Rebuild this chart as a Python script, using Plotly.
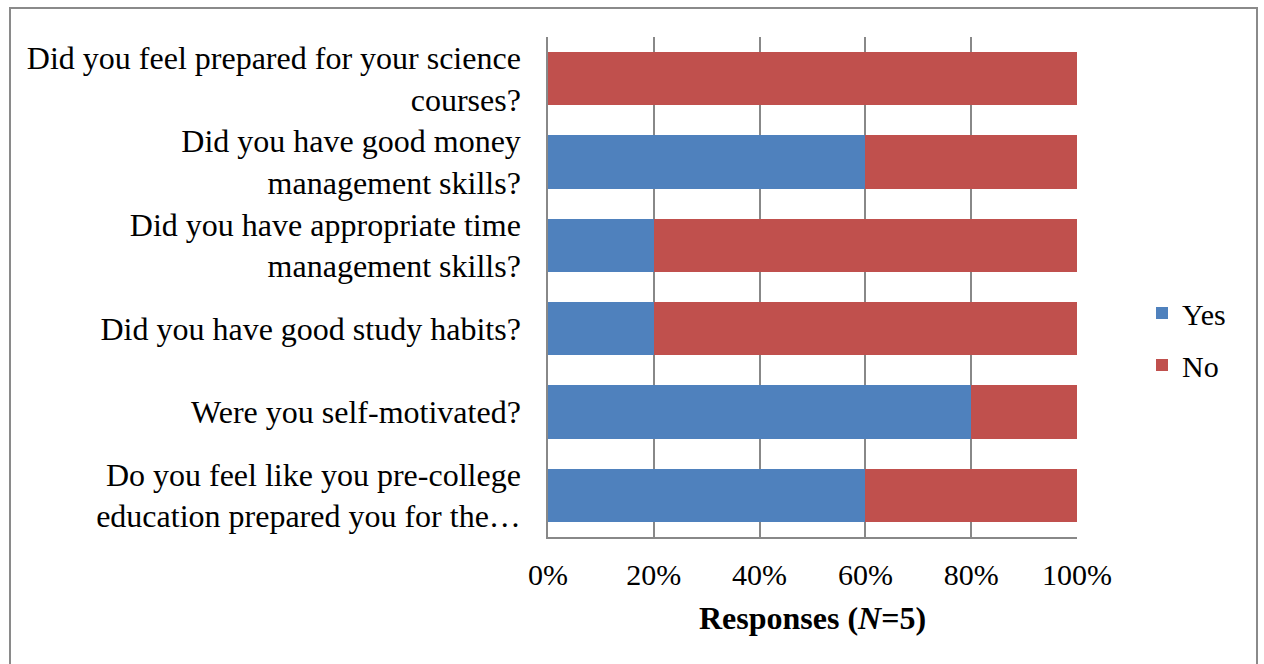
import plotly.graph_objects as go

# Survey questions, listed top to bottom
questions = [
    "Did you feel prepared for your science<br>courses?",
    "Did you have good money<br>management skills?",
    "Did you have appropriate time<br>management skills?",
    "Did you have good study habits?",
    "Were you self-motivated?",
    "Do you feel like you pre-college<br>education prepared you for the…",
]
yes_pct = [0, 60, 20, 20, 80, 60]
no_pct = [100, 40, 80, 80, 20, 40]
tick_vals = [0, 20, 40, 60, 80, 100]
tick_text = ["0%", "20%", "40%", "60%", "80%", "100%"]

W, H = 1264, 664
ML, MR, MT, MB = 548, 187, 37, 127
PW, PH = W - ML - MR, H - MT - MB

FONT = "Liberation Serif, Times New Roman, serif"
GRID = "#888888"

fig = go.Figure()
fig.add_trace(go.Bar(y=questions, x=yes_pct, name="Yes", orientation="h",
                     legend="legend", showlegend=True,
                     marker=dict(color="#4F81BD", line=dict(width=0))))
fig.add_trace(go.Bar(y=questions, x=no_pct, name="No", orientation="h",
                     legend="legend2", showlegend=True,
                     marker=dict(color="#C0504D", line=dict(width=0))))

# pixel -> paper coordinate helpers
def px_x(p):
    return (p - ML) / PW

def px_y(p):
    return (H - MB - p) / PH

# outer chart frame
fig.add_shape(type="rect", xref="paper", yref="paper",
              x0=px_x(10), x1=px_x(1257), y0=px_y(H + 20), y1=px_y(8),
              line=dict(color="#8a8a8a", width=2), fillcolor="rgba(0,0,0,0)",
              layer="below")

legend_style = dict(xanchor="left", yanchor="middle", font=dict(size=30),
                    itemwidth=30, bgcolor="rgba(0,0,0,0)", visible=True)

fig.update_layout(
    width=W, height=H,
    margin=dict(l=ML, r=MR, t=MT, b=MB),
    showlegend=True,
    barmode="stack",
    bargap=0.36,
    paper_bgcolor="white",
    plot_bgcolor="white",
    font=dict(family=FONT, size=30, color="black"),
    legend=dict(x=px_x(1142), y=px_y(313), **legend_style),
    legend2=dict(x=px_x(1142), y=px_y(365), **legend_style),
    xaxis=dict(range=[0, 100], tickvals=tick_vals, ticktext=tick_text,
               tickfont=dict(size=30),
               showgrid=True, gridcolor=GRID, gridwidth=1.5,
               showline=True, linecolor=GRID, linewidth=1.5,
               zeroline=False, ticks="", ticklabelstandoff=10,
               title=dict(text="<b>Responses (<i>N</i>=5)</b>",
                          font=dict(size=32), standoff=17)),
    yaxis=dict(autorange="reversed", showgrid=False, zeroline=False,
               showline=True, linecolor=GRID, linewidth=1.5,
               tickfont=dict(size=32),
               ticks="", ticklabelstandoff=19),
)

fig.write_html("out.html")
